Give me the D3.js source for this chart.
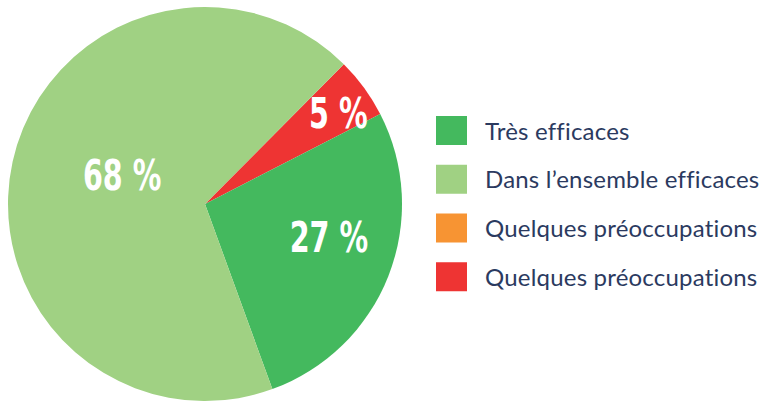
<!DOCTYPE html>
<html>
<head>
<meta charset="utf-8">
<script src="https://cdn.jsdelivr.net/npm/d3@7"></script>
<style>
  body { margin: 0; background: #fff; }
  svg { display: block; }
</style>
</head>
<body>
<div id="chart"></div>
<script>
// slices, clockwise from the red one
const sliceNames = ["Quelques préoccupations (rouge)", "Très efficaces", "Dans l’ensemble efficaces"];
const sliceValues = [5, 27, 68];
const sliceColors = ["#ee3433", "#44b95e", "#a0d183"];
const sliceLabels = ["5 %", "27 %", "68 %"];

const legendLabels = ["Très efficaces", "Dans l’ensemble efficaces", "Quelques préoccupations", "Quelques préoccupations"];
const legendColors = ["#44b95e", "#a0d183", "#f79433", "#ee3433"];

const W = 762, H = 402;
const cx = 205, cy = 204, R = 197;

const svg = d3.select("#chart").append("svg")
    .attr("width", W)
    .attr("height", H);

const start = 44.8 * Math.PI / 180;
const pie = d3.pie()
    .sort(null)
    .startAngle(start)
    .endAngle(start + 2 * Math.PI);

const arc = d3.arc().innerRadius(0).outerRadius(R);

const slices = pie(sliceValues);

const g = svg.append("g").attr("transform", `translate(${cx},${cy})`);

g.selectAll("path")
    .data(slices)
    .enter()
    .append("path")
    .attr("d", arc)
    .attr("fill", (d, i) => sliceColors[i]);

// where each label sits: radius, and how far along the slice (0..1)
const labelR = [162, 128, 88];
const labelT = [0.59, 0.43, 0.53];
const fs = 43;
g.selectAll("text")
    .data(slices)
    .enter()
    .append("text")
    .attr("transform", (d, i) => {
        const a = d.startAngle + labelT[i] * (d.endAngle - d.startAngle);
        const x = labelR[i] * Math.sin(a), y = -labelR[i] * Math.cos(a);
        return `translate(${x},${y}) scale(0.74,1)`;
    })
    .attr("text-anchor", "middle")
    .attr("y", 0.729 * fs / 2)
    .attr("fill", "#fff")
    .style("font-family", "'DejaVu Sans Condensed', 'DejaVu Sans', sans-serif")
    .style("font-weight", "bold")
    .style("font-size", fs + "px")
    .text((d, i) => sliceLabels[i]);

// legend
const y = d3.scaleBand()
    .domain(d3.range(legendLabels.length))
    .range([116, 311])
    .paddingInner(0);

const legend = svg.append("g");
const rows = legend.selectAll("g")
    .data(legendLabels)
    .enter()
    .append("g")
    .attr("transform", (d, i) => `translate(436,${y(i)})`);

rows.append("rect")
    .attr("width", 31)
    .attr("height", 29)
    .attr("fill", (d, i) => legendColors[i]);

rows.append("text")
    .attr("x", 49)
    .attr("y", 23.5)
    .attr("fill", "#2b3a5f")
    .style("font-family", "Lato, sans-serif")
    .style("font-size", "24px")
    .style("letter-spacing", "0.2px")
    .style("font-variant-ligatures", "none")
    .text(d => d);
</script>
</body>
</html>
